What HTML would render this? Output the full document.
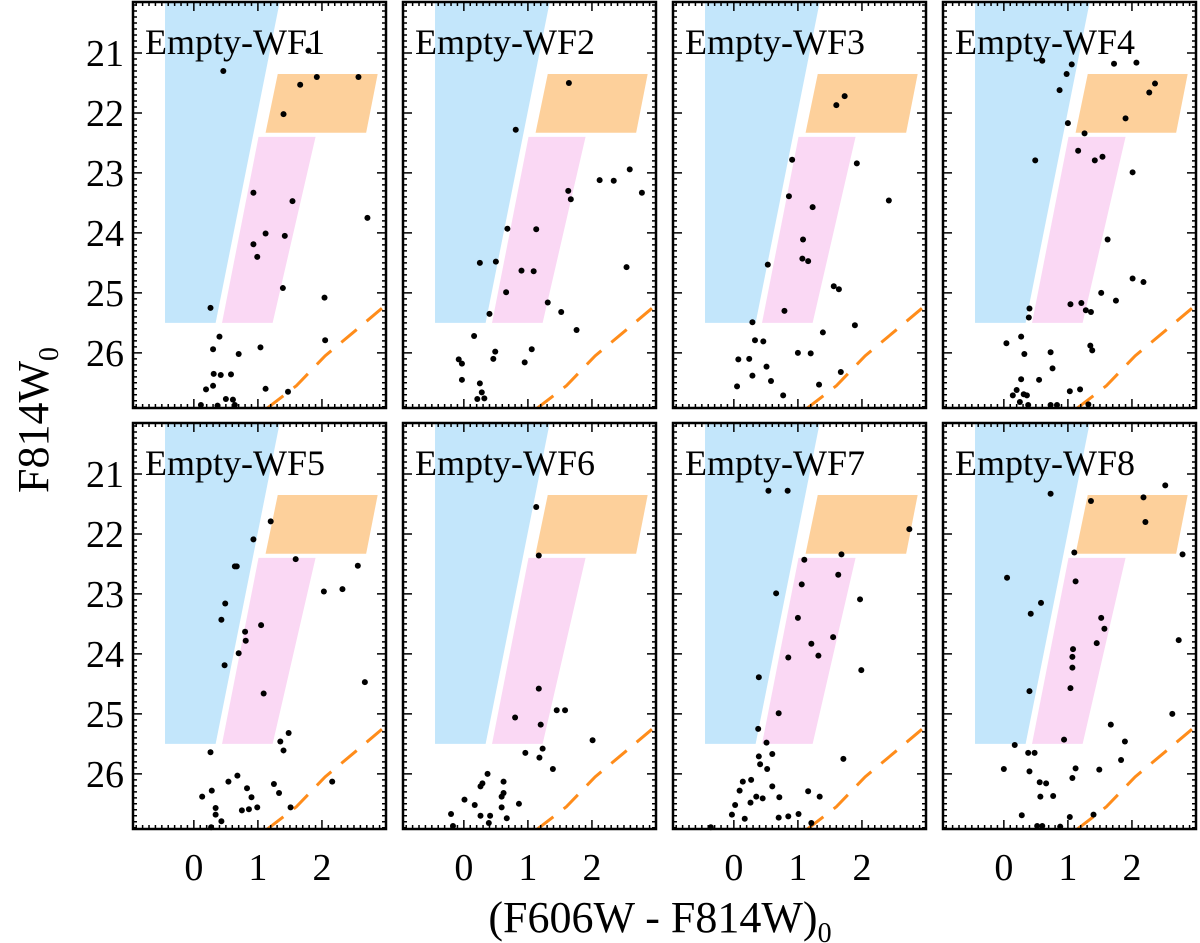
<!DOCTYPE html>
<html><head><meta charset="utf-8">
<style>
html,body{margin:0;padding:0;background:#fff;}
svg{display:block;font-family:"Liberation Serif",serif;}
svg text{font-family:"Liberation Serif",serif;}
</style></head>
<body>
<svg id="fig" width="1200" height="943" viewBox="0 0 1200 943" xmlns="http://www.w3.org/2000/svg"></svg>
<script>
// ---- data ----
const panelNames = ["Empty-WF1","Empty-WF2","Empty-WF3","Empty-WF4","Empty-WF5","Empty-WF6","Empty-WF7","Empty-WF8"];
const xTicks = [0,1,2];
const yTicks = [21,22,23,24,25,26];
const blueRegion = [[-0.45,25.5],[0.34,25.5],[1.34,20.15],[-0.45,20.15]];
const pinkRegion = [[0.44,25.5],[1.23,25.5],[1.9,22.4],[1.01,22.4]];
const orangeRegion = [[1.12,22.33],[2.69,22.33],[2.87,21.35],[1.31,21.35]];
const limitColor = [1.15,1.6,2.05,2.5,3.0];
const limitMag = [26.92,26.55,26.05,25.65,25.2];
const wf1 = [[0.46,21.3],[1.79,20.96],[1.66,21.53],[1.92,21.4],[2.57,21.4],[1.4,22.02],[0.93,23.33],[1.54,23.47],[2.71,23.75],[1.12,24.01],[0.93,24.19],[1.42,24.05],[0.99,24.4],[1.39,24.92],[2.04,25.08],[0.26,25.25],[0.4,25.73],[0.3,25.94],[1.04,25.91],[0.7,26.02],[2.05,25.79],[0.31,26.35],[0.42,26.37],[0.58,26.36],[0.19,26.61],[0.3,26.55],[1.12,26.6],[1.47,26.65],[0.5,26.77],[0.61,26.78],[0.11,26.87],[0.37,26.88],[0.64,26.87]];
const wf2 = [[1.64,21.5],[0.81,22.28],[2.12,23.12],[2.34,23.13],[2.59,22.94],[2.78,23.33],[1.63,23.3],[1.67,23.44],[0.68,23.93],[1.13,23.94],[0.25,24.5],[0.5,24.48],[0.9,24.63],[1.09,24.64],[2.54,24.57],[0.66,24.99],[1.31,25.16],[1.52,25.32],[0.4,25.35],[1.76,25.62],[0.16,25.72],[0.49,25.98],[0.46,26.1],[1.06,25.94],[0.95,26.16],[-0.08,26.11],[-0.03,26.18],[-0.03,26.45],[0.25,26.51],[0.28,26.66],[0.21,26.77],[0.32,26.76]];
const wf3 = [[1.73,21.72],[1.6,21.87],[0.91,22.78],[1.92,22.84],[0.86,23.39],[1.23,23.57],[2.42,23.46],[1.08,24.11],[1.07,24.43],[1.16,24.47],[0.53,24.53],[1.56,24.89],[1.64,24.94],[0.79,25.3],[0.29,25.49],[1.89,25.54],[1.39,25.66],[0.33,25.79],[0.46,25.81],[1.0,26.0],[1.2,26.01],[0.07,26.11],[0.24,26.1],[0.51,26.23],[0.29,26.38],[0.58,26.47],[1.67,26.32],[0.05,26.56],[1.33,26.53],[0.77,26.71]];
const wf4 = [[0.6,21.13],[1.06,21.19],[0.98,21.35],[0.87,21.62],[1.72,21.18],[2.07,21.16],[2.36,21.51],[2.27,21.66],[1.9,22.09],[1.0,22.17],[1.26,22.34],[0.49,22.79],[1.16,22.63],[1.42,22.79],[1.54,22.73],[2.01,22.99],[1.62,24.11],[2.01,24.76],[2.18,24.82],[1.52,25.0],[1.75,25.13],[1.04,25.19],[1.21,25.17],[1.28,25.29],[1.36,25.32],[0.4,25.26],[0.39,25.41],[0.27,25.73],[0.04,25.84],[0.32,26.02],[0.73,25.99],[1.35,25.88],[1.38,25.96],[0.76,26.26],[0.27,26.44],[0.55,26.45],[0.2,26.62],[0.14,26.71],[0.31,26.69],[0.36,26.71],[1.03,26.64],[1.19,26.61],[0.25,26.82],[0.73,26.87],[0.83,26.87],[1.32,26.86],[0.38,26.87]];
const wf5 = [[1.2,21.79],[0.93,22.09],[1.59,22.42],[0.64,22.54],[0.67,22.54],[2.56,22.53],[2.03,22.96],[2.32,22.92],[0.49,23.16],[0.43,23.43],[1.05,23.52],[0.8,23.63],[0.81,23.78],[0.7,23.99],[0.48,24.19],[2.67,24.47],[1.09,24.66],[1.48,25.32],[1.35,25.46],[1.4,25.61],[0.26,25.64],[0.68,26.03],[0.54,26.13],[0.83,26.24],[1.25,26.17],[0.28,26.28],[0.13,26.38],[0.9,26.39],[1.33,26.32],[2.16,26.13],[0.34,26.57],[0.34,26.68],[0.75,26.61],[0.86,26.59],[0.99,26.56],[1.51,26.56],[0.43,26.79],[0.27,26.89]];
const wf6 = [[1.13,21.55],[1.17,22.36],[1.17,24.58],[0.8,25.06],[1.2,25.18],[1.45,24.94],[1.58,24.94],[2.01,25.44],[0.96,25.65],[1.23,25.58],[1.18,25.73],[1.39,25.92],[0.37,26.0],[0.29,26.16],[0.26,26.21],[0.62,26.13],[0.62,26.32],[0.59,26.38],[0.01,26.43],[0.17,26.52],[0.59,26.56],[0.86,26.5],[-0.2,26.67],[0.26,26.7],[0.41,26.7],[0.67,26.74],[-0.17,26.87],[0.39,26.82]];
const wf7 = [[0.54,21.28],[0.84,21.28],[2.74,21.92],[1.68,22.34],[1.1,22.43],[1.63,22.68],[1.06,22.84],[0.66,22.99],[1.97,23.09],[1.0,23.4],[1.55,23.72],[1.21,23.83],[0.85,24.06],[1.32,24.03],[1.99,24.27],[0.39,24.39],[0.7,24.99],[0.38,25.25],[0.51,25.48],[0.6,25.67],[0.39,25.71],[0.41,25.84],[0.52,25.92],[1.71,25.75],[0.27,26.1],[0.14,26.13],[0.09,26.28],[0.6,26.21],[0.35,26.38],[0.45,26.41],[0.71,26.39],[1.16,26.29],[1.34,26.38],[0.26,26.48],[0.02,26.52],[-0.03,26.68],[0.17,26.75],[0.7,26.73],[0.85,26.71],[1.01,26.67],[1.21,26.82],[-0.36,26.89]];
const wf8 = [[0.73,21.33],[1.36,21.45],[2.18,21.39],[2.52,21.19],[2.21,21.8],[1.1,22.31],[2.79,22.34],[0.05,22.73],[1.12,22.79],[0.58,23.15],[0.42,23.33],[1.52,23.4],[1.57,23.58],[1.45,23.82],[2.73,23.77],[1.08,23.92],[1.07,24.05],[1.07,24.23],[1.04,24.57],[0.4,24.62],[2.63,25.0],[1.67,25.18],[0.94,25.43],[1.89,25.46],[0.17,25.52],[0.38,25.65],[0.48,25.65],[1.83,25.77],[0.0,25.92],[0.4,25.96],[1.12,25.91],[1.49,25.93],[1.07,26.07],[0.56,26.14],[0.66,26.16],[0.57,26.38],[0.77,26.37],[0.28,26.69],[1.03,26.72],[1.4,26.68],[0.52,26.87],[0.6,26.87],[0.88,26.88]];
const panelStars = [wf1,wf2,wf3,wf4,wf5,wf6,wf7,wf8];

// ---- layout ----
const NS = "http://www.w3.org/2000/svg";
const svg = document.getElementById('fig');
const XMIN=-0.95, XMAX=3.0, YMIN=20.15, YMAX=26.92;
const PW=253, colX=[133,403,673,943], rowY=[2,423], PH=406;
const FONT='"Liberation Serif", serif';
function mk(tag, attrs, parent){const e=document.createElementNS(NS,tag);for(const k in attrs)e.setAttribute(k,attrs[k]);(parent||svg).appendChild(e);return e;}

panelNames.forEach((name,i)=>{
  const px=colX[i%4], py=rowY[Math.floor(i/4)];
  const sx=c=>px+(c-XMIN)/(XMAX-XMIN)*PW;
  const sy=m=>py+(m-YMIN)/(YMAX-YMIN)*PH;
  const g=mk('g',{});
  
  
  const poly=(pts,fill,nm)=>{const p=mk('polygon',{points:pts.map(q=>sx(q[0])+','+sy(q[1])).join(' '),fill:fill},g);
    
    };
  poly(blueRegion,'#c3e6fb','blue-region');
  poly(pinkRegion,'#fad8f4','pink-region');
  poly(orangeRegion,'#fdd09b','orange-region');
  let d=''; limitColor.forEach((c,k)=>{d+=(k?'L':'M')+sx(c)+' '+sy(limitMag[k]);});
  const cp=mk('clipPath',{id:'cp'+i},g); mk('rect',{x:px,y:py,width:PW,height:PH},cp);
  const lc=mk('path',{d:d,fill:'none',stroke:'#ff8c1a','stroke-width':3,'stroke-dasharray':'20,13','clip-path':'url(#cp'+i+')'},g);
  
  
  panelStars[i].forEach(s=>{
    const c=mk('circle',{cx:sx(s[0]),cy:sy(s[1]),r:3,fill:'#000'},g);
    
    
  });
  const t=mk('text',{x:px+12,y:py+52,'font-size':36,'font-family':FONT},g); t.textContent=name;
  
  
  const fr=mk('rect',{x:px,y:py,width:PW,height:PH,fill:'none',stroke:'#000','stroke-width':2.5},g);
  
  
  let td='';
  for(let k=-9;k<=30;k++){const c=k/10; if(c<XMIN||c>XMAX)continue; const L=(k%10===0)?9:4; const X=sx(c);
    td+=`M${X} ${py+PH}v${-L}M${X} ${py}v${L}`;}
  for(let k=202;k<=269;k++){const m=k/10; if(m<YMIN||m>YMAX)continue; const L=(k%10===0)?9:4; const Y=sy(m);
    td+=`M${px} ${Y}h${L}M${px+PW} ${Y}h${-L}`;}
  const tk=mk('path',{d:td,stroke:'#000','stroke-width':1.5,fill:'none'},g);
  
  
  if(i>=4){ xTicks.forEach(v=>{const l=mk('text',{x:sx(v),y:880,'font-size':38,'text-anchor':'middle','font-family':FONT},g);l.textContent=v;
    
    });}
  if(i%4===0){ yTicks.forEach(v=>{const l=mk('text',{x:124,y:sy(v)+13,'font-size':38,'text-anchor':'end','font-family':FONT},g);l.textContent=v;
    
    });}
});
const xt=mk('text',{x:660,y:932,'font-size':44,'text-anchor':'middle','font-family':FONT});
xt.innerHTML='(F606W - F814W)<tspan font-size="28" dy="10">0</tspan>';


const yt=mk('text',{x:0,y:0,'font-size':44,'text-anchor':'middle','font-family':FONT,transform:'translate(48,420) rotate(-90)'});
yt.innerHTML='F814W<tspan font-size="28" dy="10">0</tspan>';


</script>
</body></html>
